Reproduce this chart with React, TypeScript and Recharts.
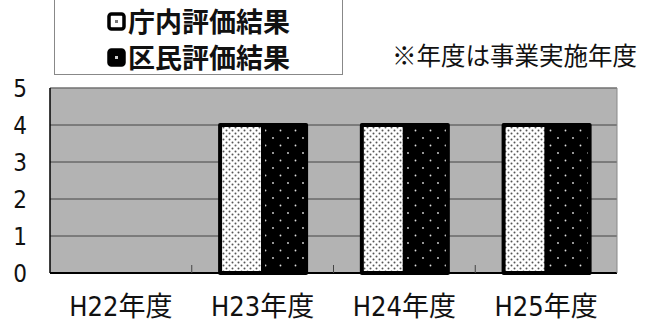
import React from 'react'
import { BarChart, Bar, XAxis, YAxis, CartesianGrid, ReferenceLine } from 'recharts'

const categories = ['H22年度', 'H23年度', 'H24年度', 'H25年度']
const chonaiValues = [0, 4, 4, 4]
const kuminValues = [0, 4, 4, 4]
const yTicks = [0, 1, 2, 3, 4, 5]
const seriesNames = ['庁内評価結果', '区民評価結果']
const note = '※年度は事業実施年度'

const data = categories.map((name, i) => ({
  name,
  chonai: chonaiValues[i],
  kumin: kuminValues[i],
}))

const narrow = "'Liberation Sans Narrow', 'DejaVu Sans Condensed', 'Noto Sans CJK JP', sans-serif"
const cjk = "'Noto Sans CJK JP', sans-serif"
const labelMargin = 24

function Patterns({ prefix }: { prefix: string }) {
  return (
    <defs>
      <pattern id={prefix + 'light'} width="6" height="6" patternUnits="userSpaceOnUse">
        <rect width="6" height="6" fill="#fff" />
        <circle cx="1.5" cy="1.5" r="1" fill="#555" />
        <circle cx="4.5" cy="4.5" r="1" fill="#555" />
      </pattern>
      <pattern id={prefix + 'dark'} width="15" height="15" patternUnits="userSpaceOnUse">
        <rect width="15" height="15" fill="#000" />
        <circle cx="3" cy="3" r="0.9" fill="#ddd" />
        <circle cx="10.5" cy="10.5" r="0.9" fill="#ddd" />
      </pattern>
    </defs>
  )
}

// category label + short inward tick at the left border of the category
function CategoryTick(props: any) {
  const { x, y, payload, index, width, visibleTicksCount } = props
  const half = width / visibleTicksCount / 2
  const axisY = y - labelMargin
  return (
    <g>
      {index > 0 && (
        <line x1={x - half} x2={x - half} y1={axisY - 8} y2={axisY} stroke="#444" />
      )}
      <text x={x} y={y} dy="0.71em" textAnchor="middle" fill="#111" fontSize={27} fontFamily={narrow}>
        {payload.value}
      </text>
    </g>
  )
}

// legend swatches: white / black square with one small dot
const swatchFill = ['#fff', '#000']
const swatchDot = ['#777', '#ccc']

function LegendBox() {
  return (
    <div
      style={{
        position: 'absolute', left: 54, top: -1, width: 289, height: 76,
        border: '1px solid #888', background: '#fff', boxSizing: 'border-box',
      }}
    >
      {seriesNames.map((n, i) => (
        <div
          key={n}
          style={{
            position: 'absolute', left: 0, right: 0, top: 3 + i * 36, height: 36, lineHeight: '36px',
            display: 'flex', alignItems: 'center', justifyContent: 'center',
            fontFamily: cjk, fontWeight: 700, fontSize: 27, color: '#111',
          }}
        >
          <svg width="19" height="19" style={{ marginRight: 2 }}>
            <rect x="2" y="2" width="15" height="15" rx="2.5" fill={swatchFill[i]} stroke="#000" strokeWidth="3.5" />
            <rect x="8" y="8" width="3" height="3" fill={swatchDot[i]} />
          </svg>
          <span>{n}</span>
        </div>
      ))}
    </div>
  )
}

export default function App() {
  return (
    <div style={{ position: 'absolute', left: 0, top: 0, width: 652, height: 327, background: '#fff' }}>
      <BarChart
        width={652}
        height={327}
        data={data}
        margin={{ top: 88, right: 0, bottom: 0, left: 0 }}
        barCategoryGap="20%"
        barGap={0}
      >
        <Patterns prefix="ch-" />
        <CartesianGrid vertical={false} stroke="#444" fill="#b3b3b3" fillOpacity={1} />
        <XAxis
          dataKey="name"
          height={54}
          tickLine={false}
          tickSize={0}
          tickMargin={labelMargin}
          axisLine={{ stroke: '#000', strokeWidth: 2 }}
          tick={<CategoryTick />}
        />
        <YAxis
          domain={[0, 5]}
          ticks={yTicks}
          width={50}
          tickLine={false}
          tickSize={0}
          tickMargin={23}
          axisLine={{ stroke: '#000', strokeWidth: 1.5 }}
          tick={{ fill: '#111', fontSize: 24, fontFamily: narrow }}
        />
        <YAxis
          yAxisId="r"
          orientation="right"
          domain={[0, 5]}
          width={35}
          tick={false}
          tickLine={false}
          axisLine={{ stroke: '#888' }}
        />
        <ReferenceLine y={5} stroke="#888" />
        <Bar dataKey="chonai" name={seriesNames[0]} fill="url(#ch-light)" stroke="#000" strokeWidth={4} strokeLinejoin="round" isAnimationActive={false} />
        <Bar dataKey="kumin" name={seriesNames[1]} fill="url(#ch-dark)" stroke="#000" strokeWidth={4} strokeLinejoin="round" isAnimationActive={false} />
      </BarChart>
      <LegendBox />
      <div style={{ position: 'absolute', left: 392, top: 37, fontFamily: cjk, fontSize: 24.5, color: '#111', whiteSpace: 'nowrap' }}>
        {note}
      </div>
    </div>
  )
}
